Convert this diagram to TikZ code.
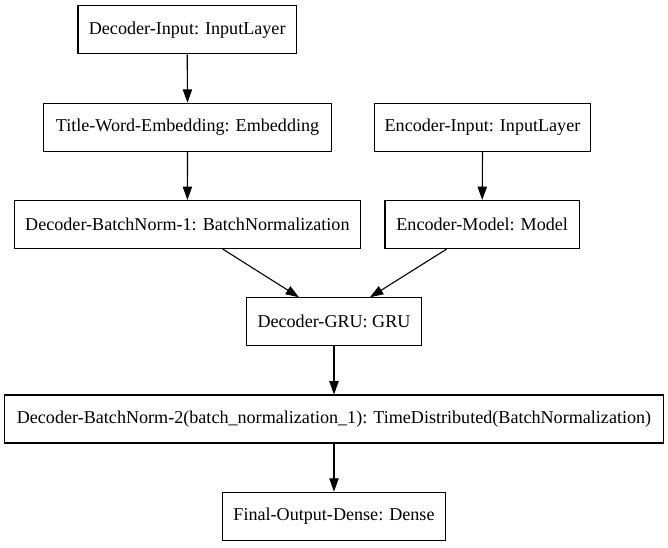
\documentclass[tikz,border=0pt]{standalone}
\usepackage{fontspec}
\setmainfont{Liberation Serif}
\usetikzlibrary{arrows.meta,calc}
\begin{document}
\begin{tikzpicture}[x=1pt,y=-1pt,
  layer/.style={draw=black, line width=1.1pt, rectangle, inner sep=0pt,
    minimum height=48pt, font=\fontsize{18.1}{22}\selectfont, text=black},
  conn/.style={draw=black, line width=1.1pt, -{Triangle[length=13.3pt,width=9.3pt]}}]
\useasboundingbox (0,0) rectangle (668,547);
\node[layer, minimum width=218.4pt] (din) at (187.2,29.7) {Decoder-Input: InputLayer};
\node[layer, minimum width=288.7pt] (emb) at (187.5,127.2) {Title-Word-Embedding: Embedding};
\node[layer, minimum width=216.2pt] (ein) at (482.5,127.2) {Encoder-Input: InputLayer};
\node[layer, minimum width=346.7pt] (bn1) at (187.4,224.5) {Decoder-BatchNorm-1: BatchNormalization};
\node[layer, minimum width=194.5pt] (em) at (482.2,224.5) {Encoder-Model: Model};
\node[layer, minimum width=175.2pt] (gru) at (334,321.8) {Decoder-GRU: GRU};
\node[layer, minimum width=658.8pt] (bn2) at (334,419) {Decoder-BatchNorm-2(batch\_normalization\_1): TimeDistributed(BatchNormalization)};
\node[layer, minimum width=222.2pt] (out) at (334,516.2) {Final-Output-Dense: Dense};
\draw[conn] (din.south) -- (emb.north);
\draw[conn] (emb.south) -- (bn1.north);
\draw[conn] (ein.south) -- (em.north);
\draw[conn] ([xshift=35.3pt]bn1.south) -- ([xshift=-35pt]gru.north);
\draw[conn] ([xshift=-35.5pt]em.south) -- ([xshift=36pt]gru.north);
\draw[conn] (gru.south) -- (bn2.north);
\draw[conn] (bn2.south) -- (out.north);
\end{tikzpicture}
\end{document}
